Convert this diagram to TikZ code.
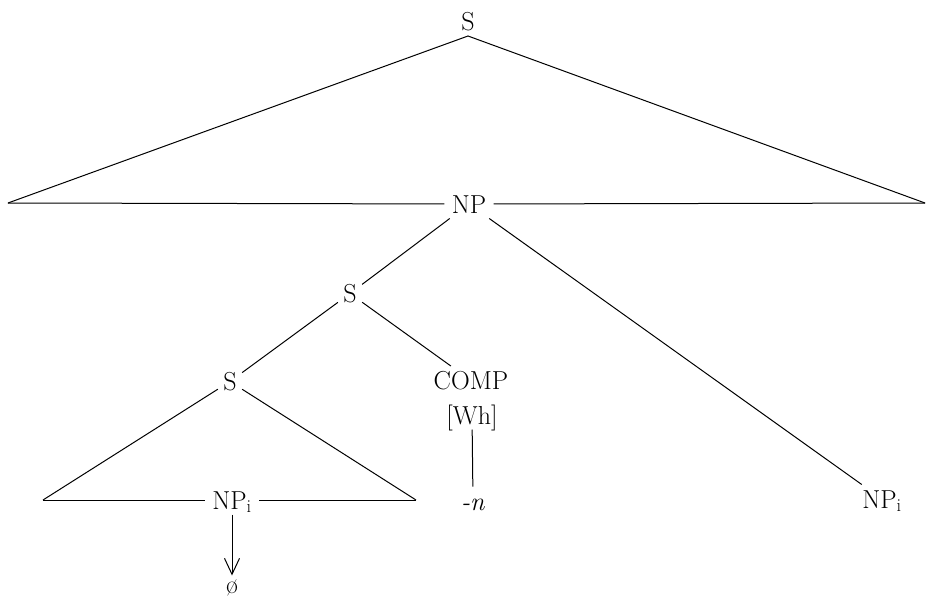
\documentclass[tikz,border=0pt]{standalone}
\usepackage{tikz}
\usetikzlibrary{arrows.meta, calc, positioning}

\begin{document}
\begin{tikzpicture}[x=1pt, y=-1pt, line width=1pt,
	cat/.style={font=\fontsize{26}{30}\selectfont, inner sep=5pt, text height=18pt, text depth=0pt}]
	\useasboundingbox (0,0) rectangle (926,597);
	% NOTE: y runs downwards here, as in the scan.
	\node[cat] (sTop) at (468,21.5) {S};
	\node[cat, inner xsep=7pt] (npTop) at (469,204) {NP};
	\node[cat] (sMid) at (350,293.5) {S};
	\node[cat] (sLow) at (230,381.5) {S};
	\node[cat] (comp) at (471,380.5) {COMP};
	\node[cat] (wh) at (472,415) {[Wh]};
	\node[cat] (suffix) at (473,501) {\textit{-n}};
	\node[cat, inner xsep=7pt] (npLow) at (232,500) {NP\textsubscript{i}};
	\node[cat, text height=14pt, inner sep=3pt] (empty) at (232,586) {\o};
	\node[cat] (npRight) at (882,499) {NP\textsubscript{i}};
	\coordinate (topLeft) at (8,203);
	\coordinate (topRight) at (925,203);
	\coordinate (lowLeft) at (43,500);
	\coordinate (lowRight) at (416,500);
	% triangles
	\draw (topLeft) -- (sTop.south) -- (topRight);
	\draw (topLeft) -- (npTop) -- (topRight);
	\draw (lowLeft) -- (sLow) -- (lowRight);
	\draw (lowLeft) -- (npLow) -- (lowRight);
	% branches
	\draw (npTop) -- (sMid);
	\draw (npTop) -- (npRight);
	\draw (sMid) -- (sLow);
	\draw (sMid) -- (comp);
	\draw (wh) -- (suffix);
	\draw[-{Straight Barb[length=16pt,width=15pt]}] (npLow) -- (empty);
\end{tikzpicture}
\end{document}
